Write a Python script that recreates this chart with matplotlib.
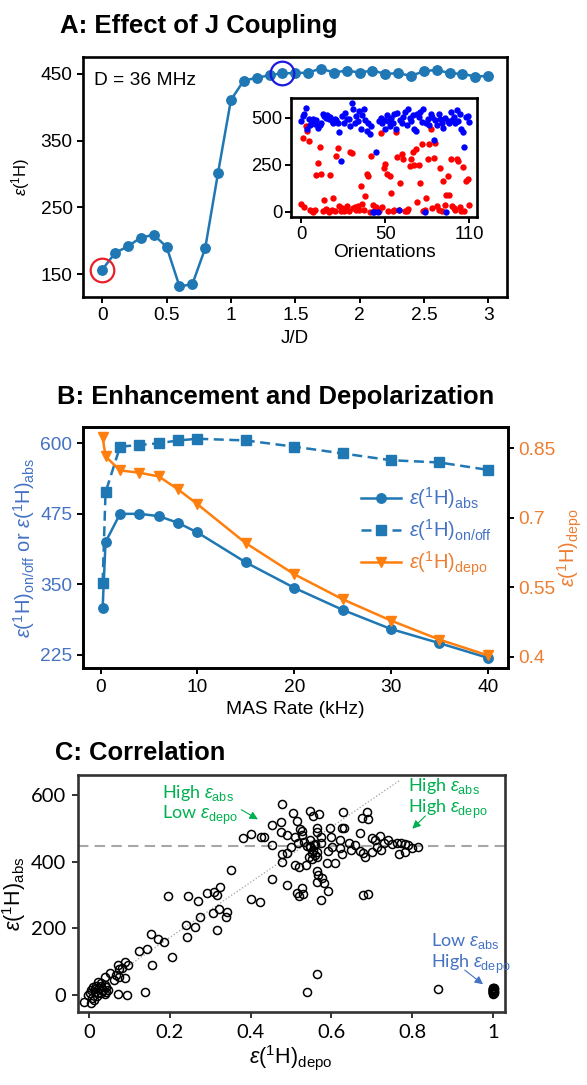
import matplotlib
matplotlib.use('Agg')
import matplotlib.pyplot as plt
import numpy as np

plt.rcParams['font.family'] = ['Liberation Sans', 'DejaVu Sans']
plt.rcParams['mathtext.fontset'] = 'custom'
plt.rcParams['mathtext.rm'] = 'Liberation Sans'
plt.rcParams['mathtext.it'] = 'Liberation Sans:italic'
plt.rcParams['mathtext.bf'] = 'Liberation Sans:bold'

# ---------------- data ----------------
# Panel A
jd = [0.0, 0.1, 0.2, 0.3, 0.4, 0.5, 0.6, 0.7, 0.8, 0.9, 1.0, 1.1, 1.2, 1.3, 1.4, 1.5,
      1.6, 1.7, 1.8, 1.9, 2.0, 2.1, 2.2, 2.3, 2.4, 2.5, 2.6, 2.7, 2.8, 2.9, 3.0]
eps_j = [157, 182, 192, 205, 209, 191, 132, 135, 189, 302, 411, 440, 444, 448, 451, 451,
         452, 458, 452, 455, 452, 455, 450, 451, 447, 454, 456, 451, 450, 446, 447]
highlight_red_idx = 0
highlight_blue_idx = 14

# Inset: per-orientation enhancement (red: J/D = 0, blue: J/D = 1.4)
inset_red = [41, 394, 28, 456, 429, 376, 10, 5, 2, 12, 194, 261, 344, 200, 3, 64, 14, 8, 2, 194,
             10, 76, 5, 297, 341, 30, 3, 22, 5, 8, 30, 4, 318, 311, 20, 28, 12, 30, 8, 138,
             40, 10, 85, 200, 191, 2, 297, 35, 5, 28, 12, 5, 420, 25, 235, 253, 200, 5, 191, 102,
             5, 8, 424, 293, 12, 152, 306, 279, 5, 3, 15, 244, 280, 318, 250, 332, 53, 250, 152, 359,
             5, 12, 76, 283, 359, 438, 20, 288, 367, 30, 12, 235, 3, 164, 35, 88, 191, 88, 283, 30,
             20, 8, 279, 270, 25, 5, 239, 3, 164, 173, 35]
inset_blue = [482, 509, 518, 553, 438, 491, 460, 477, 491, 465, 488, 447, 459, 473, 518, 509, 500, 512, 491, 505,
              482, 473, 495, 488, 470, 424, 270, 509, 470, 527, 495, 491, 456, 576, 544, 473, 509, 482, 535, 438,
              512, 548, 488, 429, 470, 412, 456, 0, 0, 320, 0, 480, 500, 470, 490, 440, 515, 485, 455, 500,
              470, 520, 440, 525, 9, 490, 470, 505, 530, 460, 545, 500, 480, 515, 440, 430, 520, 505, 530, 475,
              545, 0, 470, 495, 460, 520, 505, 382, 490, 460, 520, 495, 470, 445, 500, 0, 480, 470, 530, 490,
              505, 470, 540, 480, 520, 440, 425, 345, 505, 510, 475]
inset_tick_pos = [0, 55, 110]
inset_tick_lab = ['0', '50', '110']

# Panel B
mas = [0.2, 0.5, 2, 4, 6, 8, 10, 15, 20, 25, 30, 35, 40]
eps_abs = [308, 425, 475, 475, 471, 459, 442, 389, 344, 305, 271, 246, 220]
eps_onoff = [353, 513, 594, 597, 600, 605, 608, 605, 594, 582, 570, 566, 553]
eps_depo = [0.874, 0.832, 0.802, 0.797, 0.789, 0.761, 0.729, 0.645, 0.578, 0.524, 0.478, 0.437, 0.403]

# Panel C
corr_depo = [0.477, 0.505, 0.546, 0.569, 0.554, 0.629, 0.689, 0.675, 0.691, 0.514, 0.474, 0.454, 0.521, 0.526,
             0.565, 0.597, 0.625, 0.631, 0.670, 0.474, 0.491, 0.509, 0.528, 0.563, 0.574, 0.600, 0.382, 0.402,
             0.426, 0.432, 0.454, 0.721, 0.699, 0.707, 0.740, 0.731, 0.620, 0.643, 0.657, 0.601, 0.574, 0.546,
             0.532, 0.518, 0.500, 0.546, 0.555, 0.565, 0.551, 0.560, 0.544, 0.553, 0.563, 0.477, 0.489, 0.477,
             0.509, 0.519, 0.537, 0.590, 0.609, 0.592, 0.620, 0.627, 0.648, 0.670, 0.679, 0.684, 0.699, 0.712,
             0.723, 0.749, 0.763, 0.772, 0.781, 0.790, 0.768, 0.781, 0.800, 0.814, 0.454, 0.491, 0.514, 0.519,
             0.526, 0.530, 0.565, 0.566, 0.563, 0.576, 0.581, 0.592, 0.574, 0.679, 0.691, 0.402, 0.424, 0.351,
             0.196, 0.246, 0.269, 0.292, 0.310, 0.325, 0.318, 0.308, 0.323, 0.341, 0.339, 0.240, 0.276, 0.263,
             0.244, 0.317, 0.154, 0.170, 0.186, 0.205, 0.124, 0.145, 0.157, 0.565, 0.539, 0.864, 0.138, 0.071,
             0.094, 0.071, 0.075, 0.081, 0.096, 0.089, 0.053, 0.066, 0.075, 0.089, 0.062, 0.039, 0.022, 0.030,
             0.039, 0.018, 0.011, 0.006, 0.002, 0.016, 0.025, 0.034, 0.043, 0.048, 0.039, 0.020, 0.009, 0.006,
             -0.012, 0.013, 0.030, -0.003, 0.022, 0.016, 0.043, 0.031, 0.556, 0.546, 0.560, 0.540,
             1.0, 1.0, 1.0, 1.0, 1.0, 1.0, 1.0, 1.0, 1.0, 1.0,
             0.999, 0.999, 0.999, 0.999, 0.999, 1.001, 1.001, 1.001, 1.001, 1.001]
corr_abs = [573, 545, 552, 542, 537, 550, 548, 530, 528, 523, 518, 511, 498, 492,
            500, 502, 500, 502, 485, 490, 480, 475, 480, 490, 475, 475, 472, 483,
            473, 475, 450, 477, 470, 465, 465, 455, 465, 455, 450, 445, 455, 465,
            460, 455, 445, 445, 435, 430, 425, 420, 413, 407, 415, 423, 425, 400,
            390, 385, 390, 397, 395, 433, 440, 422, 435, 433, 425, 415, 430, 445,
            435, 453, 455, 457, 453, 450, 423, 430, 440, 445, 347, 330, 305, 298,
            320, 303, 373, 360, 340, 350, 335, 313, 285, 300, 302, 288, 278, 375,
            297, 297, 283, 307, 310, 325, 300, 245, 258, 250, 235, 211, 233, 205,
            173, 195, 183, 168, 160, 115, 131, 137, 89, 62, 8, 19, 10, 3,
            1, 90, 77, 80, 90, 100, 65, 60, 55, 50, 45, 53, 40, 35,
            30, 27, 23, 15, 7, 10, 20, 15, 23, 15, 2, -3, -10, -23,
            -20, -15, 5, 0, 7, 17, 10, 27, 450, 448, 452, 446,
            4, 6, 8, 10, 12, 14, 16, 18, 20, 22,
            7, 11, 15, 19, 9, 5, 13, 17, 21, 8]
diag_x = [-0.02, 0.77]
diag_y = [-10, 645]
ref_level = 448

# ---------------- style ----------------
C_LINE = '#1f77b4'
C_ORANGE = '#ff7f0e'
C_LBLUE = '#4472c4'
C_RTICK = '#ed7d31'
C_GREEN = '#00b050'

W, H = 587, 1085
fig = plt.figure(figsize=(W / 100, H / 100), dpi=100)


def ax_px(l, r, t, b):
    return fig.add_axes([l / W, 1 - b / H, (r - l) / W, (b - t) / H])


def frame(ax, lw=1.9, color='black'):
    for s in ax.spines.values():
        s.set_linewidth(lw)
        s.set_color(color)
    ax.tick_params(direction='out', length=4.5, width=1.4, color=color)


eps = r'$\varepsilon$(${}^{1}$H)'

# ---------------- Panel A ----------------
axA = ax_px(83, 507.5, 56.5, 297)
axA.plot(jd, eps_j, '-o', color=C_LINE, lw=1.8, ms=6.8, zorder=3)
axA.plot(jd[highlight_red_idx], eps_j[highlight_red_idx], 'o', mfc='none', mec='#e8202a',
         ms=17, mew=1.6, zorder=4)
axA.plot(jd[highlight_blue_idx], eps_j[highlight_blue_idx], 'o', mfc='none', mec='#1a1ae0',
         ms=17, mew=1.6, zorder=4)
axA.set_xlim(-0.15, 3.15)
axA.set_ylim(116, 476)
axA.set_xticks([0, 0.5, 1, 1.5, 2, 2.5, 3])
axA.set_xticklabels(['0', '0.5', '1', '1.5', '2', '2.5', '3'])
axA.set_yticks([150, 250, 350, 450])
frame(axA)
axA.tick_params(labelsize=13.8, pad=3)
axA.set_xlabel('J/D', fontsize=13.5, labelpad=4)
axA.set_ylabel(eps, fontsize=12, labelpad=6)
axA.text(0.025, 0.9, 'D = 36 MHz', transform=axA.transAxes, fontsize=13.8,
         ha='left', va='center')

# inset
axI = ax_px(291.3, 477, 97.7, 216.7)
orient = np.arange(len(inset_red))
axI.scatter(orient, inset_red, s=21, color='#ff0000', linewidths=0, zorder=2)
axI.scatter(np.arange(len(inset_blue)), inset_blue, s=21, color='#0000ff', linewidths=0, zorder=3)
axI.set_xlim(-6.5, 115.2)
axI.set_ylim(-25, 606)
axI.set_xticks(inset_tick_pos)
axI.set_xticklabels(inset_tick_lab)
axI.set_yticks([0, 250, 500])
frame(axI)
axI.tick_params(labelsize=13.3, pad=2)
axI.set_xlabel('Orientations', fontsize=13.8, labelpad=1)

fig.text(60 / W, 1 - 33 / H, 'A: Effect of J Coupling', fontsize=18.5, fontweight='bold',
         ha='left', va='baseline')

# ---------------- Panel B ----------------
axB = ax_px(82.8, 508, 427.3, 668.3)
axB.plot(mas, eps_abs, '-o', color=C_LINE, lw=1.8, ms=6.8,
         label=r'$\varepsilon$(${}^{1}$H)$_{\mathrm{abs}}$')
axB.plot(mas, eps_onoff, '--s', color=C_LINE, lw=1.8, ms=6.8, dashes=(4, 2.2),
         label=r'$\varepsilon$(${}^{1}$H)$_{\mathrm{on/off}}$')
axB.set_xlim(-1.85, 42.1)
axB.set_ylim(201.4, 628.3)
axB.set_xticks([0, 10, 20, 30, 40])
axB.set_yticks([225, 350, 475, 600])
frame(axB)
axB.tick_params(labelsize=13.8, pad=3)
axB.tick_params(axis='y', labelcolor=C_LBLUE)
axB.set_xlabel('MAS Rate (kHz)', fontsize=13.8, labelpad=4)
axB.set_ylabel(r'$\varepsilon$(${}^{1}$H)$_{\mathrm{on/off}}$ or $\varepsilon$(${}^{1}$H)$_{\mathrm{abs}}$',
               fontsize=14.5, color=C_LBLUE, labelpad=2)

axB2 = axB.twinx()
axB2.plot(mas, eps_depo, '-v', color=C_ORANGE, lw=1.8, ms=7.8,
          label=r'$\varepsilon$(${}^{1}$H)$_{\mathrm{depo}}$')
axB2.set_ylim(0.375, 0.895)
axB2.set_yticks([0.4, 0.55, 0.7, 0.85])
axB2.set_yticklabels(['0.4', '0.55', '0.7', '0.85'])
frame(axB2)
axB2.tick_params(labelsize=13.8, pad=3, labelcolor=C_RTICK)
axB2.set_ylabel(r'$\varepsilon$(${}^{1}$H)$_{\mathrm{depo}}$', fontsize=14.5, color=C_RTICK,
                labelpad=0)

h1, l1 = axB.get_legend_handles_labels()
h2, l2 = axB2.get_legend_handles_labels()
leg = axB2.legend(h1 + h2, l1 + l2, loc='center left', bbox_to_anchor=(0.63, 0.567),
                  frameon=False, fontsize=14.5, handlelength=2.0, handletextpad=0.4,
                  labelspacing=0.3, borderpad=0)
for t, c in zip(leg.get_texts(), [C_LBLUE, C_LBLUE, C_RTICK]):
    t.set_color(c)

fig.text(56.7 / W, 1 - 404 / H, 'B: Enhancement and Depolarization', fontsize=18.4,
         fontweight='bold', ha='left', va='baseline')

# ---------------- Panel C ----------------
axC = ax_px(77.6, 504.9, 775, 1011.7)
axC.axhline(ref_level, color='#a6a6a6', lw=1.5, ls=(0, (5, 3)), zorder=1)
axC.plot(diag_x, diag_y, color='#a0a0a0', lw=0.9, ls=':', zorder=1)
axC.plot(corr_depo, corr_abs, 'o', mfc='none', mec='black', ms=5.8, mew=1.1, ls='none', zorder=3)
axC.set_xlim(-0.0277, 1.0287)
axC.set_ylim(-50, 660)
axC.set_xticks([0, 0.2, 0.4, 0.6, 0.8, 1.0])
axC.set_xticklabels(['0', '0.2', '0.4', '0.6', '0.8', '1'])
axC.set_yticks([0, 200, 400, 600])
frame(axC, color='#333333')
axC.tick_params(labelsize=14.5, pad=4)
for lab in axC.get_xticklabels() + axC.get_yticklabels():
    lab.set_family(['Lato', 'DejaVu Sans'])
axC.set_xlabel(r'$\varepsilon$(${}^{1}$H)$_{\mathrm{depo}}$', fontsize=15.5, labelpad=2)
axC.set_ylabel(r'$\varepsilon$(${}^{1}$H)$_{\mathrm{abs}}$', fontsize=15.5, labelpad=2)

axC.text(0.18, 570, 'High $\\varepsilon_{\\mathrm{abs}}$\nLow $\\varepsilon_{\\mathrm{depo}}$',
         color=C_GREEN, fontsize=13, ha='left', va='center', linespacing=1.1,
         family=['Lato', 'DejaVu Sans'])
axC.annotate('', xy=(0.424, 523), xytext=(0.371, 560),
             arrowprops=dict(arrowstyle='-|>', color=C_GREEN, lw=0.8, mutation_scale=12))
axC.text(0.789, 590, 'High $\\varepsilon_{\\mathrm{abs}}$\nHigh $\\varepsilon_{\\mathrm{depo}}$',
         color=C_GREEN, fontsize=13, ha='left', va='center', linespacing=1.1,
         family=['Lato', 'DejaVu Sans'])
axC.annotate('', xy=(0.795, 493), xytext=(0.837, 543),
             arrowprops=dict(arrowstyle='-|>', color=C_GREEN, lw=0.8, mutation_scale=12))
axC.text(0.846, 125, 'Low $\\varepsilon_{\\mathrm{abs}}$\nHigh $\\varepsilon_{\\mathrm{depo}}$',
         color=C_LBLUE, fontsize=13, ha='left', va='center', linespacing=1.1,
         family=['Lato', 'DejaVu Sans'])
axC.annotate('', xy=(0.98, 27), xytext=(0.924, 80),
             arrowprops=dict(arrowstyle='-|>', color=C_LBLUE, lw=0.8, mutation_scale=12))

fig.text(55 / W, 1 - 760 / H, 'C: Correlation', fontsize=18.4, fontweight='bold',
         ha='left', va='baseline')

fig.savefig('out.png', dpi=100)
